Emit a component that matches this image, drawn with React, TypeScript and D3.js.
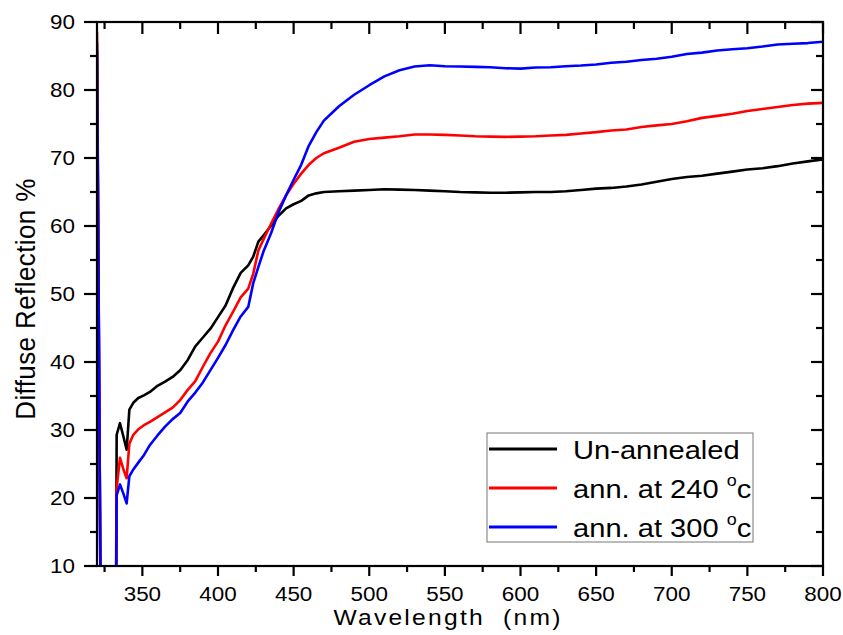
import React, { useEffect, useRef } from "react";
import * as d3 from "d3";

// wavelength (nm) shared by all three spectra
const wavelengths = [
  320, 322.5, 332.5, 333, 335.2, 337.5, 339.6, 341.4, 344, 347.3, 351, 355, 360, 365, 370, 375,
  380, 385, 390, 395, 400, 405, 410, 415, 420, 423.3, 426.7, 430, 435, 440, 445, 450, 455, 460,
  465, 470, 480, 490, 500, 510, 520, 530, 540, 550, 560, 570, 580, 590, 600, 610, 620, 630, 640,
  650, 660, 670, 680, 690, 700, 710, 720, 730, 740, 750, 760, 770, 780, 790, 800,
];

const unannealed = [
  87, 0, 0, 29.3, 31, 29, 27.1, 33, 34, 34.7, 35.1, 35.6, 36.5, 37.1, 37.8, 38.8,
  40.3, 42.3, 43.6, 44.9, 46.6, 48.3, 50.9, 53.1, 54.2, 55.5, 57.7, 58.6, 60, 61.5, 62.6, 63.2, 63.7, 64.5,
  64.8, 65, 65.1, 65.2, 65.3, 65.4, 65.35, 65.3, 65.2, 65.1, 65, 64.95, 64.9, 64.9, 64.95, 65, 65, 65.1, 65.3,
  65.5, 65.6, 65.8, 66.1, 66.5, 66.9, 67.2, 67.4, 67.7, 68, 68.3, 68.5, 68.8, 69.2, 69.5, 69.8,
];

const ann240 = [
  88.5, 0, 0, 21.5, 25.9, 24.2, 22.9, 28, 29.3, 30.1, 30.7, 31.2, 31.9, 32.6, 33.3, 34.4,
  35.9, 37.2, 39.3, 41.3, 43, 45.4, 47.4, 49.5, 50.8, 53, 56.4, 58, 60.3, 62.5, 64.5, 66.2, 67.7, 69,
  70, 70.7, 71.5, 72.4, 72.8, 73, 73.2, 73.45, 73.45, 73.4, 73.3, 73.2, 73.15, 73.1, 73.15, 73.2, 73.3, 73.4, 73.6,
  73.8, 74.05, 74.2, 74.55, 74.8, 75, 75.4, 75.9, 76.2, 76.5, 76.9, 77.2, 77.5, 77.8, 78, 78.1,
];

const ann300 = [
  85.8, 0, 0, 20.4, 22, 20.6, 19.2, 23.2, 24.2, 25.2, 26.3, 27.8, 29.2, 30.5, 31.6, 32.5,
  34.2, 35.5, 37, 38.8, 40.6, 42.5, 44.7, 46.7, 48.1, 51.6, 54, 56.2, 58.9, 62, 64.5, 66.8, 69, 71.8,
  73.8, 75.5, 77.6, 79.3, 80.7, 82, 82.9, 83.45, 83.65, 83.5, 83.45, 83.4, 83.35, 83.2, 83.15, 83.3, 83.35, 83.5, 83.6,
  83.75, 84, 84.15, 84.4, 84.6, 84.9, 85.3, 85.5, 85.8, 86, 86.15, 86.4, 86.7, 86.8, 86.9, 87.1,
];

const seriesNames = ["Un-annealed", "ann. at 240 ", "ann. at 300 "];
const seriesColors = ["#000000", "#ff0000", "#0000ff"];
const xMajorTicks = [350, 400, 450, 500, 550, 600, 650, 700, 750, 800];
const xMinorTicks = [325, 375, 425, 475, 525, 575, 625, 675, 725, 775];
const yMajorTicks = [10, 20, 30, 40, 50, 60, 70, 80, 90];
const yMinorTicks = [15, 25, 35, 45, 55, 65, 75, 85];

const FONT = "'Liberation Sans', Arial, sans-serif";

export default function App() {
  const ref = useRef<SVGSVGElement | null>(null);

  useEffect(() => {
    document.body.style.margin = "0";
    const svg = d3.select(ref.current);
    svg.selectAll("*").remove();

    const left = 97, right = 823, top = 22, bottom = 566;
    const x = d3.scaleLinear().domain([320, 800]).range([left, right]);
    const y = d3.scaleLinear().domain([10, 90]).range([bottom, top]);

    svg.append("defs").append("clipPath").attr("id", "plot-clip")
      .append("rect")
      .attr("x", left).attr("y", top)
      .attr("width", right - left).attr("height", bottom - top);

    // spectra
    const line = d3.line<number>()
      .x((_, i) => x(wavelengths[i]))
      .y(d => y(d));

    [unannealed, ann240, ann300].forEach((vals, k) => {
      svg.append("path")
        .attr("clip-path", "url(#plot-clip)")
        .attr("d", line(vals))
        .attr("fill", "none")
        .attr("stroke", seriesColors[k])
        .attr("stroke-width", 2.6)
        .attr("stroke-linejoin", "round");
    });

    // frame
    svg.append("rect")
      .attr("x", left).attr("y", top)
      .attr("width", right - left).attr("height", bottom - top)
      .attr("fill", "none").attr("stroke", "#000").attr("stroke-width", 2.2);

    const ticks = svg.append("g").attr("stroke", "#000").attr("stroke-width", 2.2);
    const tick = (x1: number, y1: number, x2: number, y2: number) =>
      ticks.append("line").attr("x1", x1).attr("y1", y1).attr("x2", x2).attr("y2", y2);

    xMajorTicks.forEach(t => {
      tick(x(t), bottom, x(t), bottom + 10);
      tick(x(t), top, x(t), top + 12);
    });
    xMinorTicks.forEach(t => {
      tick(x(t), bottom, x(t), bottom + 6);
      tick(x(t), top, x(t), top + 7);
    });
    yMajorTicks.forEach(t => {
      tick(left - 13, y(t), left, y(t));
      tick(right - 12, y(t), right, y(t));
    });
    yMinorTicks.forEach(t => {
      tick(left - 7, y(t), left, y(t));
      tick(right - 7, y(t), right, y(t));
    });

    // stretched text helper
    const label = (tx: number, ty: number, txt: string, size: number, anchor: string, sx: number) =>
      svg.append("g")
        .attr("transform", `translate(${tx},${ty}) scale(${sx},1)`)
        .append("text")
        .attr("font-family", FONT)
        .attr("font-size", size)
        .attr("text-anchor", anchor)
        .attr("fill", "#000")
        .text(txt);

    xMajorTicks.forEach(t => label(x(t), 600.5, String(t), 19.5, "middle", 1.15));
    yMajorTicks.forEach(t => label(75, y(t) + 7, String(t), 19.5, "end", 1.15));

    label(448, 625, "Wavelength  (nm)", 22, "middle", 1.12)
      .attr("letter-spacing", 2)
      .style("white-space", "pre");

    svg.append("g")
      .attr("transform", "translate(35,299) rotate(-90) scale(1,1.08)")
      .append("text")
      .attr("font-family", FONT)
      .attr("font-size", 26)
      .attr("text-anchor", "middle")
      .attr("letter-spacing", 0.4)
      .text("Diffuse Reflection %");

    // legend
    const lg = svg.append("g");
    lg.append("rect")
      .attr("x", 487).attr("y", 433)
      .attr("width", 266).attr("height", 109)
      .attr("fill", "#fff").attr("stroke", "#777").attr("stroke-width", 1);

    seriesNames.forEach((name, i) => {
      const ly = 449 + i * 39;
      lg.append("line")
        .attr("x1", 489).attr("x2", 557)
        .attr("y1", ly).attr("y2", ly)
        .attr("stroke", seriesColors[i]).attr("stroke-width", 3);
      const txt = lg.append("g")
        .attr("transform", `translate(573,${ly + 10}) scale(1.12,1)`)
        .append("text")
        .attr("font-family", FONT)
        .attr("font-size", 26)
        .style("white-space", "pre");
      txt.append("tspan").text(name);
      if (i > 0) {
        txt.append("tspan").attr("font-size", 16).attr("dy", -12).text("o");
        txt.append("tspan").attr("dy", 12).text("c");
      }
    });
  }, []);

  return <svg ref={ref} width={843} height={635} style={{ display: "block" }} />;
}
